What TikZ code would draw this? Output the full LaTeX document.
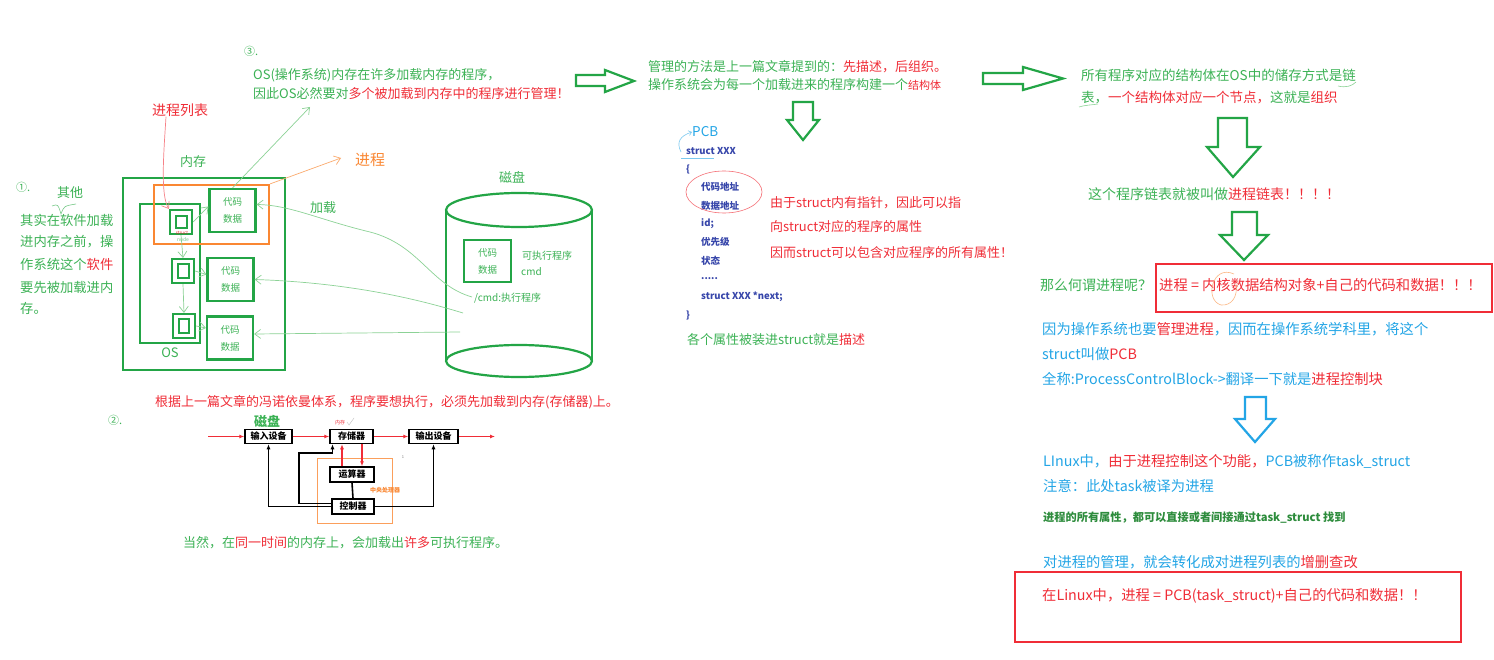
\documentclass[tikz,border=0pt]{standalone}
\usepackage{fontspec}
\setmainfont{Noto Sans CJK SC}
\usetikzlibrary{arrows.meta}

\definecolor{zgreen}{RGB}{60,178,85}
\definecolor{bgreen}{RGB}{35,165,70}
\definecolor{lgreen}{RGB}{140,210,150}
\definecolor{dgreen}{RGB}{45,140,60}
\definecolor{zred}{RGB}{240,45,55}
\definecolor{zorange}{RGB}{250,135,50}
\definecolor{zblue}{RGB}{35,165,230}
\definecolor{codeblue}{RGB}{55,70,170}

\newcommand{\fsz}[1]{\fontsize{#1}{#1}\selectfont}

\begin{document}
\begin{tikzpicture}[x=1pt, y=-1pt,
    txt/.style={inner sep=0pt, anchor=west, font=\fsz{13}},
    rtxt/.style={txt, font=\fsz{14.3}},
    gbox/.style={draw=bgreen, line width=2.2pt, inner sep=0pt},
    obox/.style={draw=zorange, line width=2.2pt, inner sep=0pt},
    rbox/.style={draw=zred, line width=1.6pt},
    codebox/.style={gbox, minimum width=46pt, minimum height=43pt, align=center, text=zgreen, font=\fontsize{9.5}{17}\selectfont},
    sqout/.style={gbox, minimum width=22pt, minimum height=24pt},
    sqin/.style={gbox, line width=2pt, minimum width=11pt, minimum height=12pt},
    thinarrow/.style={lgreen, line width=0.7pt, -{Straight Barb[length=6pt, width=9pt]}},
    bigarrow/.style={draw=bgreen, line width=2.2pt, line join=miter},
    vnbox/.style={draw=black, line width=1.5pt, fill=white, minimum height=14pt, inner sep=1pt, font=\fsz{9}\bfseries},
    vnred/.style={zred, line width=1.5pt, -{Latex[length=5pt, width=4pt]}},
    vnblack/.style={black, line width=1.6pt, -{Latex[length=5pt, width=4pt]}},
    codetxt/.style={txt, text=codeblue, font=\fsz{9.5}\bfseries},
]
    \fill[white] (0,0) rectangle (1494,660);
    \useasboundingbox (0,0) rectangle (1494,660);

    % Memory
    \node[gbox, minimum width=162pt, minimum height=192pt] (mem) at (204,274) {};
    \node[gbox, minimum width=60pt, minimum height=139pt] (os) at (170,273.5) {};
    \node[obox, minimum width=115pt, minimum height=59pt] (procbox) at (211.5,214.5) {};
    \node[txt, anchor=center, text=zgreen] (memlbl) at (193,162) {内存};
    \node[txt, anchor=center, text=zgreen] (oslbl) at (170,353) {OS};
    \node[txt, anchor=center, text=zred, font=\fsz{14}] (plist) at (180,110) {进程列表};

    % struct nodes
    \node[sqout] (nodeA) at (181,222) {};
    \node[sqin] (inA) at (nodeA) {};
    \node[sqout] (nodeB) at (183,271) {};
    \node[sqin, minimum height=14pt] (inB) at (nodeB) {};
    \node[sqout] (nodeC) at (184,326) {};
    \node[sqin, minimum width=10pt, minimum height=14pt] (inC) at (nodeC) {};
    \node[inner sep=0pt, text=zred, font=\fsz{4.5}] (lblstruct) at (182,233) {struct};
    \node[inner sep=0pt, text=zgreen!70, font=\fsz{5}] (lblnode) at (183,240) {node};

    % Code and data
    \node[codebox] (codeA) at (232.5,210.5) {代码\\数据};
    \node[codebox] (codeB) at (230.5,279.5) {代码\\数据};
    \node[codebox] (codeC) at (230,338) {代码\\数据};

    \draw[thinarrow] (nodeA.east) -- ([yshift=4pt]codeA.west);
    \draw[thinarrow] (nodeB.east) -- ([yshift=5pt]codeB.west);
    \draw[thinarrow] (nodeC.east) -- ([yshift=10pt]codeC.west);
    \draw[thinarrow] (nodeA.south) -- (nodeB.north);
    \draw[thinarrow] (nodeB.south) -- (nodeC.north);
    \draw[zred!60, line width=0.7pt, -{Straight Barb[length=6pt, width=9pt]}] ([xshift=-14pt]plist.south) .. controls (164,150) and (160,195) .. (nodeA.north west);

    % Disk
    \node[txt, anchor=center, text=zgreen] (disklbl) at (512,177) {磁盘};
    \draw[gbox] (519,210) ellipse [x radius=73, y radius=17];
    \draw[gbox] (446,210) -- (446,361) (592,210) -- (592,361);
    \draw[gbox] (519,361) ellipse [x radius=73, y radius=16];
    \node[codebox, minimum width=47pt, minimum height=42pt] (diskcode) at (487.5,261) {代码\\数据};
    \node[txt, text=zgreen, font=\fsz{10}] (exelbl) at (522,256) {可执行程序};
    \node[txt, text=zgreen, font=\fsz{10}] (cmdlbl) at (521,272) {cmd};
    \node[txt, text=zgreen, font=\fsz{10}] (cmdexe) at (474,298) {/cmd:执行程序};

    % Loading
    \coordinate (dA) at (472,297);
    \coordinate (dB) at (463,313);
    \coordinate (dC) at (460,332);
    \draw[thinarrow] (dA) .. controls (430,285) and (420,245) .. (370,232) .. controls (320,220) and (290,205) .. ([yshift=6pt]codeA.east);
    \draw[thinarrow] (dB) .. controls (430,303) and (360,283) .. (codeB.east);
    \draw[thinarrow] (dC) -- ([yshift=4pt]codeC.east);
    \node[txt, anchor=center, text=zgreen] (loadlbl) at (323,208) {加载};
    \node[txt, anchor=center, text=zorange, font=\fsz{15}] (proclbl) at (370,160) {进程};
    \draw[zorange!70, line width=0.7pt, -{Straight Barb[length=6pt, width=9pt]}] (procbox.north east) -- (341,158);
    \coordinate (toos) at (310,107);
    \draw[thinarrow] (codeA.north) -- (toos);

    % Step 1
    \node[txt, text=zgreen, font=\fsz{11}] (one) at (16,187) {①.};
    \node[txt, anchor=center, text=zgreen] (other) at (70,193) {其他};
    \draw[zgreen!70, line width=0.6pt] (52,206) .. controls (58,204) .. (61,214) .. controls (64,206) .. (76,204);
    \node[txt, text=zgreen, font=\fsz{13.3}] (p1) at (20,220) {其实在软件加载};
    \node[txt, text=zgreen, font=\fsz{13.3}] (p2) at (20,242) {进内存之前，操};
    \node[txt, text=zgreen, font=\fsz{13.3}] (p3) at (20,264) {作系统这个\textcolor{zred}{软件}};
    \node[txt, text=zgreen, font=\fsz{13.3}] (p4) at (20,287) {要先被加载进内};
    \node[txt, text=zgreen, font=\fsz{13.3}] (p5) at (20,308) {存。};

    % Step 3
    \node[txt, text=zgreen, font=\fsz{11}] (three) at (244,51) {③.};
    \node[txt, text=zgreen] (osl1) at (253,75) {OS(操作系统)内存在许多加载内存的程序，};
    \node[txt, text=zgreen] (osl2) at (253,94) {因此OS必然要对\textcolor{zred}{多个被加载到内存中的程序进行管理！}};
    \draw[bigarrow] (576,75) -- (605,75) -- (605,70) -- (634,81) -- (605,92) -- (605,86) -- (576,86) -- cycle;

    % Describe
    \node[txt, text=zgreen] (m1) at (648,67) {管理的方法是上一篇文章提到的：\textcolor{zred}{先描述，后组织。}};
    \node[txt, text=zgreen] (m2) at (648,85) {操作系统会为每一个加载进来的程序构建一个\textcolor{zred}{\fsz{11}结构体}};
    \draw[bigarrow] (793,102) -- (813,102) -- (813,120) -- (819,120) -- (803,140) -- (787,120) -- (793,120) -- cycle;

    % PCB
    \node[txt, text=zblue, font=\fsz{13.5}] (pcb) at (692,132) {PCB};
    \node[codetxt] (s1) at (686,151) {struct XXX};
    \node[codetxt] (s2) at (686,169) {\{};
    \node[codetxt] (s3) at (701,187) {代码地址};
    \node[codetxt] (s4) at (701,206) {数据地址};
    \node[codetxt] (s5) at (701,224) {id;};
    \node[codetxt] (s6) at (701,242) {优先级};
    \node[codetxt] (s7) at (701,261) {状态};
    \node[codetxt] (s8) at (701,279) {.....};
    \node[codetxt] (s9) at (701,297) {struct XXX *next;};
    \node[codetxt] (s10) at (686,315) {\}};
    \draw[zblue!60, line width=0.6pt] (681,158) -- (714,158);
    \draw[zblue!60, line width=0.6pt, -{Straight Barb[length=3pt, width=5pt]}] (681,152) .. controls (676,142) and (680,136) .. (pcb.west);
    \draw[zred!70, line width=0.6pt] (724,192) ellipse [x radius=38, y radius=21];
    \node[txt, text=zred] (ptr1) at (770,203) {由于struct内有指针，因此可以指};
    \node[txt, text=zred] (ptr2) at (770,227) {向struct对应的程序的属性};
    \node[txt, text=zred] (ptr3) at (770,253) {因而struct可以包含对应程序的所有属性！};
    \node[txt, text=zgreen] (desc) at (687,340) {各个属性被装进struct就是\textcolor{zred}{描述}};

    % Organize
    \draw[bigarrow] (983,73) -- (1023,73) -- (1023,67) -- (1063,78.5) -- (1023,90) -- (1023,84) -- (983,84) -- cycle;
    \node[txt, text=zgreen, font=\fsz{13.5}] (r1) at (1081,75) {所有程序对应的结构体在OS中的储存方式是链};
    \node[txt, text=zgreen, font=\fsz{13.5}] (r2) at (1081,98) {表，\textcolor{zred}{一个结构体对应一个节点，}这就是\textcolor{zred}{组织}};
    \draw[lgreen, line width=0.6pt] (1338,86) .. controls (1346,88) and (1352,86) .. (1356,82);
    \draw[lgreen, line width=0.6pt] (1079,107) .. controls (1085,105) and (1092,105) .. (1098,104);
    \draw[bigarrow] (1218,118) -- (1247,118) -- (1247,147) -- (1260,147) -- (1233,177) -- (1207,147) -- (1218,147) -- cycle;
    \node[txt, text=zgreen, font=\fsz{14}] (r3) at (1088,194) {这个程序链表就被叫做\textcolor{zred}{进程链表！！！！}};
    \draw[bigarrow] (1232,212) -- (1257,212) -- (1257,235) -- (1268,235) -- (1244,260) -- (1220,235) -- (1232,235) -- cycle;

    % Process
    \node[txt, text=zgreen, font=\fsz{14}] (r4) at (1040,285) {那么何谓进程呢？};
    \node[rtxt, text=zred] (r5) at (1159,285) {进程 = 内核数据结构对象+自己的代码和数据！！！};
    \draw[rbox] (1156,264) rectangle (1492,312);
    \draw[zorange!60, line width=0.6pt] (1234,274) .. controls (1212,264) and (1204,300) .. (1221,305) .. controls (1232,306) and (1238,296) .. (1236,284);
    \node[rtxt, text=zblue] (b1) at (1042,329) {因为操作系统也要\textcolor{zred}{管理进程}，因而在操作系统学科里，将这个};
    \node[rtxt, text=zblue] (b2) at (1042,354) {struct叫做\textcolor{zred}{PCB}};
    \node[rtxt, text=zblue] (b3) at (1042,379) {全称:ProcessControlBlock->翻译一下就是\textcolor{zred}{进程控制块}};
    \draw[bigarrow, draw=zblue] (1245,397) -- (1266,397) -- (1266,419) -- (1275,419) -- (1255,442) -- (1235,419) -- (1245,419) -- cycle;

    % Linux
    \node[rtxt, text=zblue] (b4) at (1043,461) {LInux中，\textcolor{zred}{由于进程控制这个功能，}PCB被称作task\_struct};
    \node[rtxt, text=zblue] (b5) at (1043,486) {注意：此处task被译为进程};
    \node[txt, text=dgreen, font=\fsz{11.2}\bfseries] (b6) at (1043,518) {进程的所有属性，都可以直接或者间接通过task\_struct 找到};
    \node[rtxt, text=zblue] (b7) at (1043,562) {对进程的管理，就会转化成对进程列表的\textcolor{zred}{增删查改}};
    \draw[rbox] (1015,572) rectangle (1461,642);
    \node[rtxt, text=zred] (b8) at (1042,596) {在Linux中，进程 = PCB(task\_struct)+自己的代码和数据！！};

    % Step 2: von Neumann
    \node[txt, text=zred] (vn0) at (155,402) {根据上一篇文章的冯诺依曼体系，程序要想执行，必须先加载到内存(存储器)上。};
    \node[txt, text=zgreen, font=\fsz{11}] (two) at (108,420) {②.};
    \node[txt, anchor=center, text=zgreen, font=\fsz{13}\bfseries] (vndisk) at (267,421) {磁盘};
    \node[draw=zorange!80, line width=1pt, minimum width=75pt, minimum height=65pt] (cpu) at (354.5,490.5) {};
    \node[vnbox, minimum width=47pt] (vnin) at (268.5,436.5) {输入设备};
    \node[vnbox, minimum width=43pt] (vnmem) at (351.5,436.5) {存储器};
    \node[vnbox, minimum width=49pt] (vnout) at (433.5,436.5) {输出设备};
    \node[vnbox, minimum width=44pt, minimum height=15pt] (vnalu) at (352,474.5) {运算器};
    \node[vnbox, minimum width=42pt, minimum height=15pt] (vnctl) at (353,506.5) {控制器};
    \coordinate (vnsrc) at (208,436.5);
    \coordinate (vndst) at (495,436.5);
    \draw[vnred] (vnsrc) -- (vnin);
    \draw[vnred] (vnin) -- (vnmem);
    \draw[vnred] (vnmem) -- (vnout);
    \draw[vnred] (vnout) -- (vndst);
    \draw[vnred] ([xshift=-10pt]vnalu.north) -- ([xshift=-9.5pt]vnmem.south);
    \draw[vnred] ([xshift=10.5pt]vnmem.south) -- ([xshift=10pt]vnalu.north);
    \draw[vnblack] (vnctl.west) -| (vnin.south);
    \draw[vnblack] ([yshift=3pt]vnctl.west) -| (299,453) -| ([xshift=-19pt]vnmem.south);
    \draw[vnblack] (vnctl.east) -| (vnout.south);
    \draw[black, line width=1.6pt] (vnalu.south) -- (vnctl.north);
    \node[txt, anchor=center, text=zred, font=\fsz{5}] (memtag) at (340,423) {内存};
    \draw[gray!50, line width=0.4pt] (347,422) -- (349,425) -- (354,418);
    \node[txt, anchor=center, text=zorange, font=\fsz{6}\bfseries] (cpulbl) at (385,490) {中央处理器};
    \node[txt, anchor=center, text=gray, font=\fsz{4}] (stray) at (403,457) {1};
    \node[txt, text=zgreen] (vn1) at (183,543) {当然，在\textcolor{zred}{同一时间}的内存上，会加载出\textcolor{zred}{许多}可执行程序。};

\end{tikzpicture}
\end{document}
